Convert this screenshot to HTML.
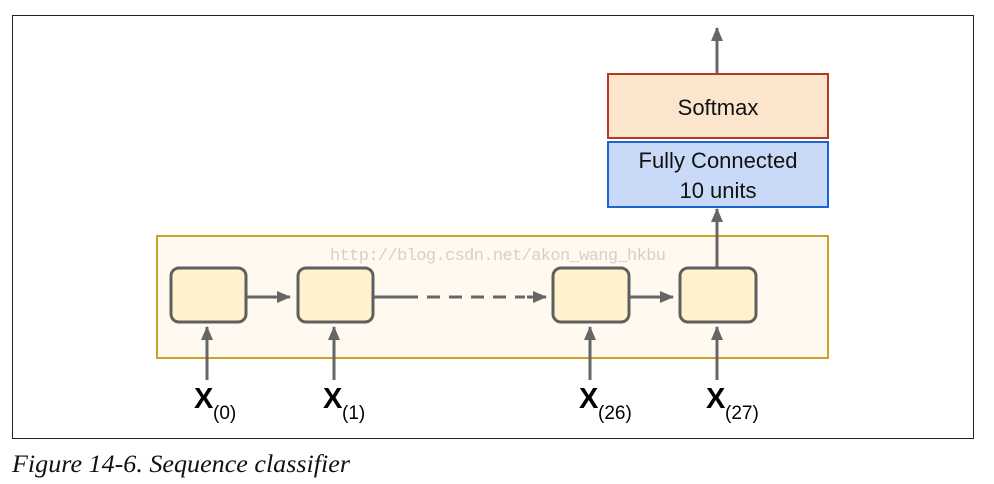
<!DOCTYPE html>
<html><head><meta charset="utf-8"><style>
html,body{margin:0;padding:0;background:#fff;width:994px;height:484px;overflow:hidden}
svg{display:block}
</style></head><body>
<svg width="994" height="484" xmlns="http://www.w3.org/2000/svg">
<defs>
<marker id="ah" markerWidth="14" markerHeight="12" refX="13" refY="6" orient="auto" markerUnits="userSpaceOnUse">
<path d="M0,0 L14,6 L0,12 Z" fill="#666"/>
</marker>
</defs>
<rect x="12.5" y="15.5" width="961" height="423" fill="#fff" stroke="#222" stroke-width="1"/>
<rect x="157" y="236" width="671" height="122" fill="#fff9f0" stroke="#c9a227" stroke-width="2"/>
<text x="330" y="260" font-family="Liberation Mono, monospace" font-size="17" fill="#d6d0c8" textLength="336">http://blog.csdn.net/akon_wang_hkbu</text>
<g fill="#fff2cc" stroke="#5f5f5f" stroke-width="3">
<rect x="171" y="268" width="75" height="54" rx="8"/>
<rect x="298" y="268" width="75" height="54" rx="8"/>
<rect x="553" y="268" width="76" height="54" rx="8"/>
<rect x="680" y="268" width="76" height="54" rx="8"/>
</g>
<g stroke="#666" stroke-width="3" fill="none">
<line x1="247" y1="297" x2="290" y2="297" marker-end="url(#ah)"/>
<line x1="374" y1="297" x2="405" y2="297"/>
<line x1="405" y1="297" x2="525" y2="297" stroke-dasharray="13,9"/>
<line x1="527" y1="297" x2="546" y2="297" marker-end="url(#ah)"/>
<line x1="630" y1="297" x2="673" y2="297" marker-end="url(#ah)"/>
<line x1="207" y1="380" x2="207" y2="327" marker-end="url(#ah)"/>
<line x1="334" y1="380" x2="334" y2="327" marker-end="url(#ah)"/>
<line x1="590" y1="380" x2="590" y2="327" marker-end="url(#ah)"/>
<line x1="717" y1="380" x2="717" y2="327" marker-end="url(#ah)"/>
<line x1="717" y1="267" x2="717" y2="209" marker-end="url(#ah)"/>
<line x1="717" y1="74" x2="717" y2="28" marker-end="url(#ah)"/>
</g>
<rect x="608" y="74" width="220" height="64" fill="#fce5cd" stroke="#b7391f" stroke-width="2"/>
<text x="718" y="115" text-anchor="middle" font-family="Liberation Sans, sans-serif" font-size="22" fill="#111">Softmax</text>
<rect x="608" y="142" width="220" height="65" fill="#c9daf8" stroke="#1c64d0" stroke-width="2"/>
<text x="718" y="168" text-anchor="middle" font-family="Liberation Sans, sans-serif" font-size="22" fill="#111">Fully Connected</text>
<text x="718" y="198" text-anchor="middle" font-family="Liberation Sans, sans-serif" font-size="22" fill="#111">10 units</text>
<g font-family="Liberation Sans, sans-serif" fill="#000">
<text x="194" y="408" font-size="29" font-weight="bold">X</text><text x="213" y="419" font-size="19">(0)</text>
<text x="323" y="408" font-size="29" font-weight="bold">X</text><text x="342" y="419" font-size="19">(1)</text>
<text x="579" y="408" font-size="29" font-weight="bold">X</text><text x="598" y="419" font-size="19">(26)</text>
<text x="706" y="408" font-size="29" font-weight="bold">X</text><text x="725" y="419" font-size="19">(27)</text>
</g>
<text x="12" y="472" font-family="Liberation Serif, serif" font-style="italic" font-size="25" fill="#111" textLength="338" lengthAdjust="spacingAndGlyphs">Figure 14-6. Sequence classifier</text>
</svg>
</body></html>
